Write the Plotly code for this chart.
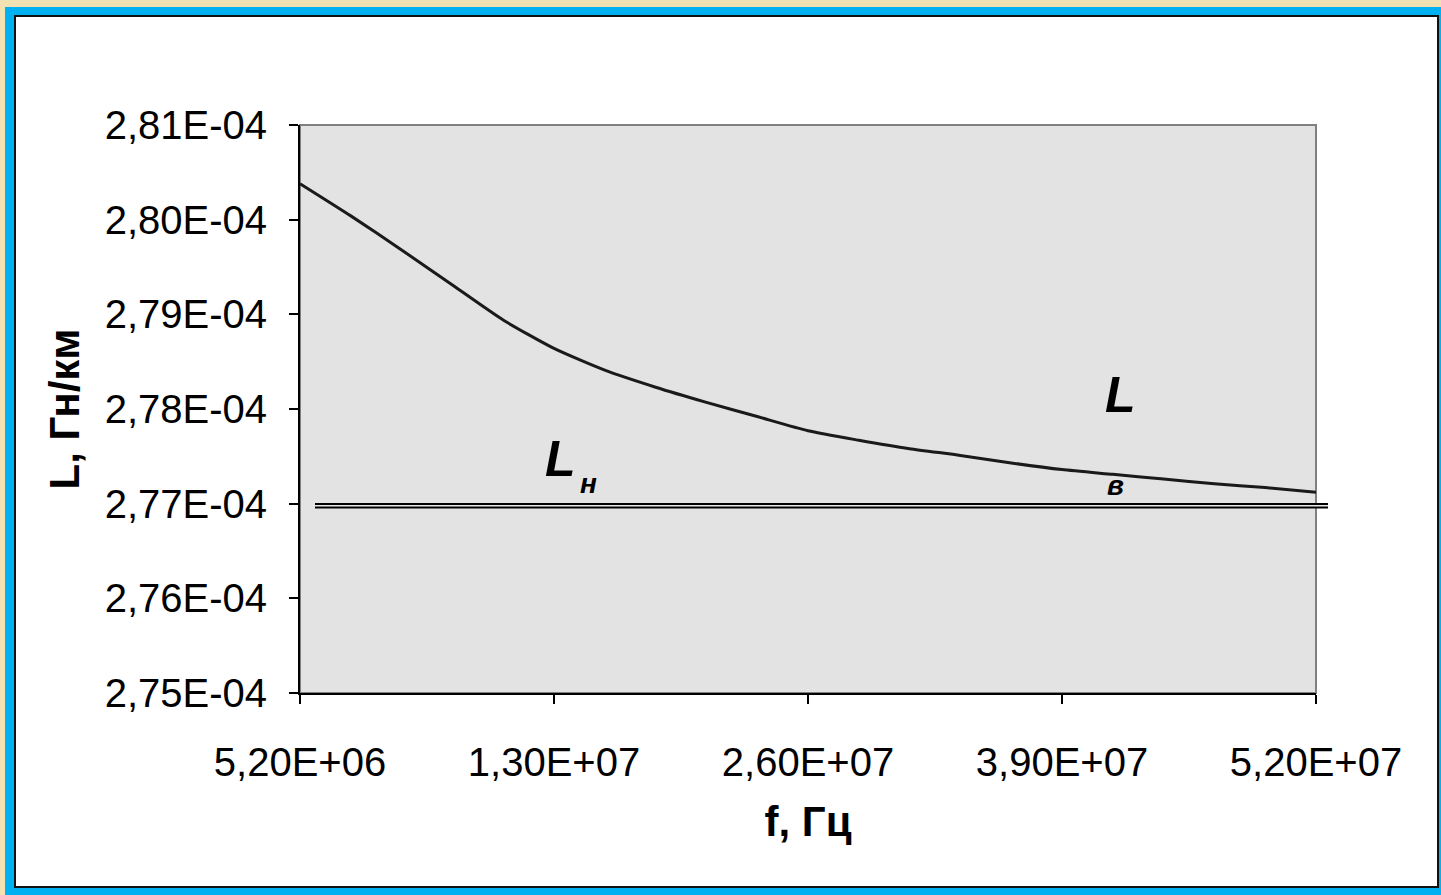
import plotly.graph_objects as go

# ---- data ----
x_index = list(range(21))
L_values = [2.8038e-4, 2.8004e-4, 2.7968e-4, 2.7931e-4, 2.7894e-4, 2.7864e-4,
            2.7841e-4, 2.7823e-4, 2.7807e-4, 2.7792e-4, 2.7777e-4, 2.7767e-4,
            2.7758e-4, 2.7751e-4, 2.7743e-4, 2.7736e-4, 2.7731e-4, 2.7726e-4,
            2.7721e-4, 2.7717e-4, 2.7712e-4]
Ln_value = [2.77e-4]
x_tickvals = [0, 5, 10, 15, 20]
x_ticktext = ["5,20E+06", "1,30E+07", "2,60E+07", "3,90E+07", "5,20E+07"]
y_tickvals = [2.75e-4, 2.76e-4, 2.77e-4, 2.78e-4, 2.79e-4, 2.80e-4, 2.81e-4]
y_ticktext = ["2,75E-04", "2,76E-04", "2,77E-04", "2,78E-04", "2,79E-04", "2,80E-04", "2,81E-04"]

W, H = 1441, 895
ML, MR, MT, MB = 300, 125, 125, 202
PW, PH = W - ML - MR, H - MT - MB


def px(xpix):
    return (xpix - ML) / PW


def py(ypix):
    return (H - MB - ypix) / PH


FONT = "Liberation Sans Narrow, Arial Narrow, Liberation Sans, Arial, sans-serif"
BOLD = "Liberation Sans, Arial, sans-serif"

fig = go.Figure()
fig.add_trace(go.Scatter(x=x_index, y=L_values, mode="lines",
                         line=dict(color="#1a1a1a", width=3, shape="spline", smoothing=0.6),
                         showlegend=False, hoverinfo="skip"))

shapes = [
    # blue frame
    dict(type="rect", xref="paper", yref="paper", x0=px(5), x1=px(1450), y0=py(905), y1=py(7),
         fillcolor="#00B0F0", line=dict(width=0), layer="below"),
    # white inner panel with dark edge
    dict(type="rect", xref="paper", yref="paper", x0=px(15), x1=px(1438), y0=py(887), y1=py(16),
         fillcolor="white", line=dict(color="#111111", width=2), layer="below"),
    # grey plot area
    dict(type="rect", xref="paper", yref="paper", x0=0, x1=1, y0=0, y1=1,
         fillcolor="#E3E3E3", line=dict(color="#808080", width=2), layer="below"),
    # double line L_n
    dict(type="line", xref="paper", yref="y", ysizemode="pixel", yanchor=Ln_value[0],
         x0=px(315), x1=px(1328), y0=-2, y1=-2,
         line=dict(color="black", width=5.5), layer="above"),
    dict(type="line", xref="paper", yref="y", ysizemode="pixel", yanchor=Ln_value[0],
         x0=px(315), x1=px(1328), y0=-2, y1=-2,
         line=dict(color="#E8E8E8", width=1.5), layer="above"),
]

annotations = [
    dict(x=16.15, y=2.7815e-4, xref="x", yref="y", text="<b><i>L</i></b>", showarrow=False,
         font=dict(family=BOLD, size=50, color="black")),
    dict(x=16.05, y=2.7719e-4, xref="x", yref="y", text="<b><i>в</i></b>", showarrow=False,
         font=dict(family=BOLD, size=28, color="black")),
    dict(x=5.12, y=2.7747e-4, xref="x", yref="y", text="<b><i>L</i></b>", showarrow=False,
         font=dict(family=BOLD, size=50, color="black")),
    dict(x=5.68, y=2.7721e-4, xref="x", yref="y", text="<b><i>н</i></b>", showarrow=False,
         font=dict(family=BOLD, size=28, color="black")),
]

fig.update_layout(
    width=W, height=H,
    margin=dict(l=ML, r=MR, t=MT, b=MB, pad=0),
    paper_bgcolor="#F2E2B3",
    plot_bgcolor="rgba(0,0,0,0)",
    shapes=shapes,
    annotations=annotations,
    showlegend=False,
    font=dict(family=FONT, color="black"),
)

fig.update_xaxes(range=[0, 20], tickvals=x_tickvals, ticktext=x_ticktext,
                 showgrid=False, zeroline=False, showline=True, linecolor="black", linewidth=2,
                 ticks="outside", ticklen=9, tickwidth=2, tickcolor="black",
                 tickfont=dict(family=FONT, size=40, color="black"), ticklabelstandoff=24,
                 title=dict(text="<b>f, Гц</b>", font=dict(family=BOLD, size=42, color="black"),
                            standoff=24))
fig.update_yaxes(range=[2.75e-4, 2.81e-4], tickvals=y_tickvals, ticktext=y_ticktext,
                 showgrid=False, zeroline=False, showline=True, linecolor="black", linewidth=2,
                 ticks="outside", ticklen=9, tickwidth=2, tickcolor="black",
                 tickfont=dict(family=FONT, size=40, color="black"), ticklabelstandoff=14,
                 title=dict(text="<b>L, Гн/км</b>", font=dict(family=BOLD, size=42, color="black"),
                            standoff=12))

fig.write_html("out.html")
